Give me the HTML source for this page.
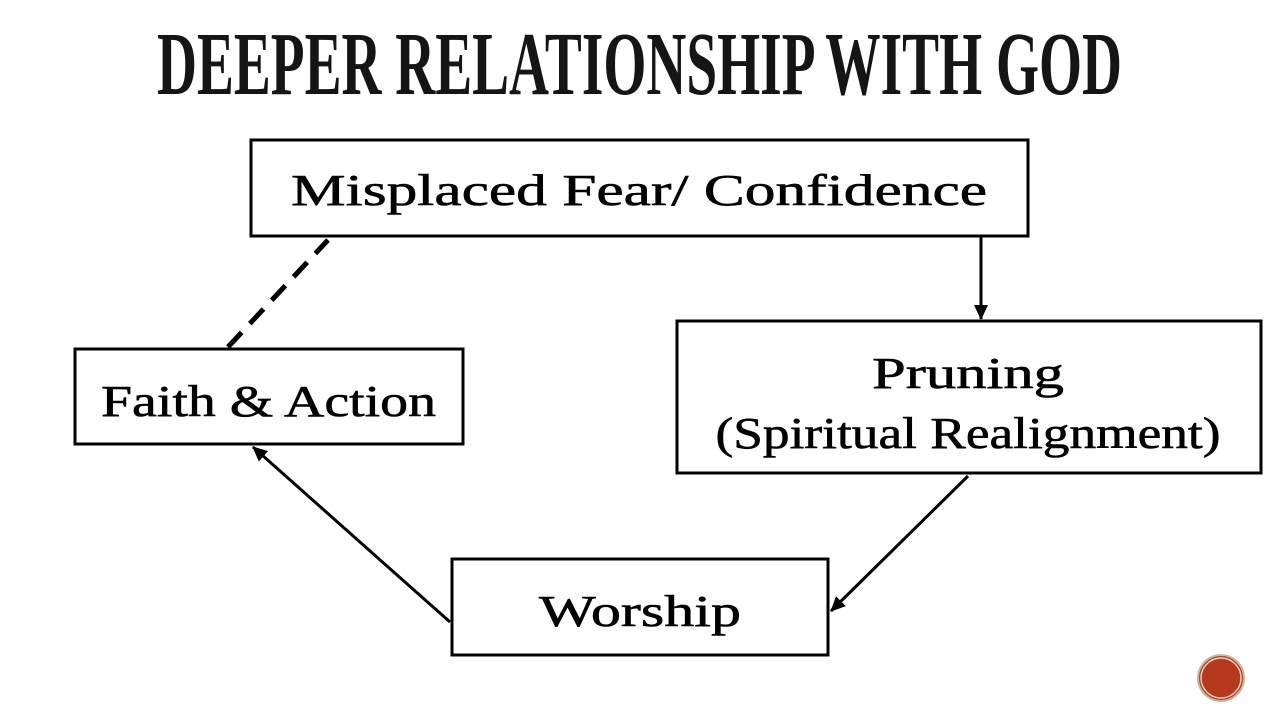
<!DOCTYPE html>
<html><head><meta charset="utf-8"><style>html,body{margin:0;padding:0;background:#fff}svg{display:block}</style></head>
<body>
<svg width="1280" height="720" viewBox="0 0 1280 720" xmlns="http://www.w3.org/2000/svg">
<defs>
<marker id="ah" markerWidth="16" markerHeight="16" refX="14" refY="7" orient="auto" markerUnits="userSpaceOnUse">
<path d="M0,0 L15,7 L0,14 Z" fill="#000"/>
</marker>
</defs>
<text x="157" y="94" font-family="Liberation Serif, serif" font-weight="bold" font-size="90" textLength="965" lengthAdjust="spacingAndGlyphs" fill="#151515">DEEPER RELATIONSHIP WITH GOD</text>
<g fill="#fff" stroke="#000" stroke-width="3">
<rect x="251" y="140" width="777" height="96"/>
<rect x="677" y="321" width="584" height="152"/>
<rect x="75" y="349" width="388" height="95"/>
<rect x="452" y="559" width="376" height="96"/>
</g>
<g font-family="Liberation Serif, serif" font-size="44" fill="#000" stroke="#000" stroke-width="0.6">
<text x="291" y="205" textLength="696" lengthAdjust="spacingAndGlyphs">Misplaced Fear/ Confidence</text>
<text x="968" y="388" text-anchor="middle" textLength="192" lengthAdjust="spacingAndGlyphs">Pruning</text>
<text x="968" y="448" text-anchor="middle" textLength="505" lengthAdjust="spacingAndGlyphs">(Spiritual Realignment)</text>
<text x="101" y="416" textLength="335" lengthAdjust="spacingAndGlyphs">Faith &amp; Action</text>
<text x="640" y="626" text-anchor="middle" textLength="202" lengthAdjust="spacingAndGlyphs">Worship</text>
</g>
<g stroke="#000" stroke-width="3" fill="none">
<line x1="981" y1="237" x2="981" y2="319" marker-end="url(#ah)"/>
<line x1="968" y1="476" x2="831" y2="611" marker-end="url(#ah)"/>
<line x1="450" y1="622" x2="253" y2="447" marker-end="url(#ah)"/>
<line x1="228" y1="347" x2="328" y2="240" stroke-width="5" stroke-dasharray="20,12"/>
</g>
<circle cx="1221" cy="678" r="23" fill="#b5391c" stroke="#c8b8a8" stroke-width="2"/>
<circle cx="1221" cy="678" r="20" fill="none" stroke="#f0d0c0" stroke-width="1.5"/>
</svg>
</body></html>
